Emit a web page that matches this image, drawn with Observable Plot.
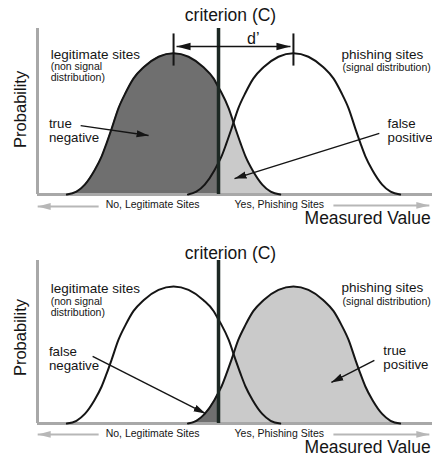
<!DOCTYPE html>
<html>
<head>
<meta charset="utf-8">
<script src="https://cdn.jsdelivr.net/npm/d3@7"></script>
<script src="https://cdn.jsdelivr.net/npm/@observablehq/plot@0.6"></script>
<style>
  html, body { margin: 0; padding: 0; background: #fff; }
  #chart { width: 432px; }
  #chart svg { display: block; }
</style>
</head>
<body>
<div id="chart"></div>
<script>
const legitX = [-1.78, -1.62, -1.48, -1.32, -1.2, -1.12, -1.03, -0.92, -0.8, -0.67, -0.5, -0.25, 0, 0.25, 0.5, 0.67, 0.75, 0.8, 0.92, 1.03, 1.12, 1.2, 1.32, 1.48, 1.62, 1.78];
const legitY = [0, 0.008, 0.028, 0.068, 0.108, 0.144, 0.188, 0.244, 0.288, 0.328, 0.36, 0.39, 0.4, 0.39, 0.36, 0.328, 0.303, 0.288, 0.244, 0.188, 0.144, 0.108, 0.068, 0.028, 0.008, 0];
const phishX = [0.24, 0.38, 0.52, 0.68, 0.75, 0.8, 0.88, 0.97, 1.08, 1.2, 1.33, 1.5, 1.75, 2, 2.25, 2.5, 2.67, 2.8, 2.92, 3.03, 3.12, 3.2, 3.32, 3.48, 3.62, 3.78];
const phishY = [0, 0.008, 0.028, 0.068, 0.091, 0.108, 0.144, 0.188, 0.244, 0.288, 0.328, 0.36, 0.39, 0.4, 0.39, 0.36, 0.328, 0.288, 0.244, 0.188, 0.144, 0.108, 0.068, 0.028, 0.008, 0];
const criterion = 0.75;
const means = [0, 2];          // legitimate mean, phishing mean (d' between them)
const xDomain = [-2.27, 4.32];

// text content
const titleText = "criterion (C)";
const dprimeText = "d\u2019";
const yTitle = "Probability";
const xTitle = "Measured Value";
const axisNotes = ["No, Legitimate Sites", "Yes, Phishing Sites"];
const distNames = ["legitimate sites", "phishing sites"];
const distSubs = [["(non signal", "distribution)"], ["(signal distribution)"]];
const topOutcomes = [["true", "negative"], ["false", "positive"]];
const bottomOutcomes = [["false", "negative"], ["true", "positive"]];

const legit = legitX.map((x, i) => ({x, y: legitY[i]}));
const phish = phishX.map((x, i) => ({x, y: phishY[i]}));

const DARK = "#6f6f6f", LIGHT = "#cacaca", INK = "#151515", AXIS = "#a8a8a8", CRIT = "#1c2823";
const ARROW_INK = "#141414", DPRIME_INK = "#131313", GRAY_ARROW = "#b7b7b7";
const FONT = "'Liberation Sans', Arial, Helvetica, sans-serif";

function addMarkers(svg, id) {
  const ns = "http://www.w3.org/2000/svg";
  const defs = document.createElementNS(ns, "defs");
  const mk = (mid, len, half, fill, orient) => {
    const m = document.createElementNS(ns, "marker");
    m.setAttribute("id", mid);
    m.setAttribute("viewBox", `${-len} ${-half - 1} ${len + 1} ${2 * half + 2}`);
    m.setAttribute("refX", "0");
    m.setAttribute("refY", "0");
    m.setAttribute("markerWidth", String(len + 1));
    m.setAttribute("markerHeight", String(2 * half + 2));
    m.setAttribute("markerUnits", "userSpaceOnUse");
    m.setAttribute("orient", orient);
    const p = document.createElementNS(ns, "path");
    p.setAttribute("d", `M${-len},${-half}L0,0L${-len},${half}Z`);
    p.setAttribute("fill", fill);
    p.setAttribute("stroke", "none");
    m.appendChild(p);
    defs.appendChild(m);
  };
  mk(`blk-${id}`, 12, 3.6, INK, "auto");
  mk(`dp-${id}`, 14, 3.8, INK, "auto-start-reverse");
  mk(`gry-${id}`, 13, 3.4, GRAY_ARROW, "auto");
  svg.insertBefore(defs, svg.firstChild);
  svg.querySelectorAll(`g[stroke="${ARROW_INK}"] path`).forEach(p => p.setAttribute("marker-end", `url(#blk-${id})`));
  svg.querySelectorAll(`g[stroke="${DPRIME_INK}"] path`).forEach(p => {
    p.setAttribute("marker-end", `url(#dp-${id})`);
    p.setAttribute("marker-start", `url(#dp-${id})`);
  });
  svg.querySelectorAll(`g[stroke="${GRAY_ARROW}"] path`).forEach(p => p.setAttribute("marker-end", `url(#gry-${id})`));
}

function panel(o) {
  const marks = [
    // shaded regions
    Plot.areaY(o.darkData, {x: "x", y: "y", filter: d => d.x <= criterion, fill: DARK, curve: "monotone-x"}),
    Plot.areaY(o.lightData, {x: "x", y: "y", filter: d => d.x >= criterion, fill: LIGHT, curve: "monotone-x"}),
    // axes lines
    Plot.ruleX([xDomain[0]], {y1: 0, y2: o.yMax, stroke: AXIS, strokeWidth: 3}),
    Plot.ruleY([0], {x1: xDomain[0], x2: xDomain[1], stroke: AXIS, strokeWidth: 3}),
    // curves
    Plot.line(legit, {x: "x", y: "y", stroke: INK, strokeWidth: 2, curve: "monotone-x"}),
    Plot.line(phish, {x: "x", y: "y", stroke: INK, strokeWidth: 2, curve: "monotone-x"}),
    // criterion
    Plot.ruleX([criterion], {y1: 0, y2: o.yMax, stroke: CRIT, strokeWidth: 3.5}),
    Plot.text([titleText], {x: criterion + 0.2, y: o.titleY, text: d => d, fontSize: 17.5, lineAnchor: "bottom", fill: INK}),
    // distribution labels
    Plot.text(distNames, {x: (d, i) => o.nameX[i], y: (d, i) => o.nameY[i], text: d => d, fontSize: 13.5, textAnchor: "start", lineAnchor: "bottom", fill: INK}),
    Plot.text(o.subs, {x: d => d.x, y: d => d.y, text: d => d.t, fontSize: 10.5, textAnchor: "start", lineAnchor: "bottom", fill: INK}),
    // outcome labels
    Plot.text(o.outcomes, {x: d => d.x, y: d => d.y, text: d => d.t, fontSize: 13.3, textAnchor: "start", lineAnchor: "bottom", fill: INK}),
    Plot.link(o.arrows, {x1: "x1", y1: "y1", x2: "x2", y2: "y2", stroke: ARROW_INK, strokeWidth: 1.4}),
    // axis notes
    Plot.text(axisNotes, {x: (d, i) => o.noteX[i], y: o.noteY, text: d => d, fontSize: 10.5, textAnchor: "start", lineAnchor: "bottom", fill: INK}),
    Plot.link(o.grayArrows, {x1: "x1", y1: "y1", x2: "x2", y2: "y2", stroke: GRAY_ARROW, strokeWidth: 2}),
    Plot.text([xTitle], {x: xDomain[1] - 0.03, y: o.xTitleY, text: d => d, fontSize: 17.5, textAnchor: "end", lineAnchor: "bottom", fill: INK}),
    Plot.text([yTitle], {x: -2.55, y: o.yTitleY, text: d => d, fontSize: 16.5, rotate: -90, textAnchor: "middle", lineAnchor: "middle", fill: INK})
  ];
  if (o.dprime) {
    marks.push(
      Plot.link(means, {x1: d => d, x2: d => d, y1: 0.365, y2: 0.456, stroke: INK, strokeWidth: 2}),
      Plot.link([means], {x1: d => d[0] + 0.05, x2: d => d[1] - 0.05, y1: 0.419, y2: 0.419, stroke: DPRIME_INK, strokeWidth: 1.4}),
      Plot.text([dprimeText], {x: 1.33, y: 0.4275, text: d => d, fontSize: 16, lineAnchor: "bottom", fill: INK})
    );
  }
  const svg = Plot.plot({
    width: 432,
    height: 228,
    marginLeft: 37,
    marginRight: 0,
    marginTop: o.marginTop,
    marginBottom: o.marginBottom,
    x: {domain: xDomain, axis: null},
    y: {domain: [0, o.yMax], axis: null},
    style: {fontFamily: FONT, background: "#fff", overflow: "visible"},
    marks
  });
  addMarkers(svg, o.id);
  return svg;
}

const topPanel = panel({
  id: "top", marginTop: 28, marginBottom: 34, yMax: 0.47,
  darkData: legit, lightData: legit, dprime: true,
  titleY: 0.490,
  nameX: [-2.05, 2.8], nameY: [0.385, 0.384],
  subs: [
    {x: -2.05, y: 0.352, t: distSubs[0][0]}, {x: -2.05, y: 0.322, t: distSubs[0][1]},
    {x: 2.82, y: 0.351, t: distSubs[1][0]}
  ],
  outcomes: [
    {x: -2.08, y: 0.188, t: topOutcomes[0][0]}, {x: -2.08, y: 0.149, t: topOutcomes[0][1]},
    {x: 3.57, y: 0.188, t: topOutcomes[1][0]}, {x: 3.57, y: 0.149, t: topOutcomes[1][1]}
  ],
  arrows: [
    {x1: -1.55, y1: 0.195, x2: -0.417, y2: 0.167},
    {x1: 3.433, y1: 0.173, x2: 1.017, y2: 0.045}
  ],
  noteX: [-1.133, 1.017], noteY: -0.0396,
  grayArrows: [
    {x1: -1.25, y1: -0.034, x2: -2.267, y2: -0.034},
    {x1: 2.667, y1: -0.031, x2: 4.267, y2: -0.031}
  ],
  xTitleY: -0.0849, yTitleY: 0.241
});

const bottomPanel = panel({
  id: "bot", marginTop: 32, marginBottom: 33, yMax: 0.476,
  darkData: phish, lightData: phish, dprime: false,
  titleY: 0.479,
  nameX: [-2.05, 2.8], nameY: [0.3825, 0.385],
  subs: [
    {x: -2.05, y: 0.347, t: distSubs[0][0]}, {x: -2.05, y: 0.3145, t: distSubs[0][1]},
    {x: 2.82, y: 0.347, t: distSubs[1][0]}
  ],
  outcomes: [
    {x: -2.08, y: 0.197, t: bottomOutcomes[0][0]}, {x: -2.08, y: 0.157, t: bottomOutcomes[0][1]},
    {x: 3.5, y: 0.200, t: bottomOutcomes[1][0]}, {x: 3.5, y: 0.160, t: bottomOutcomes[1][1]}
  ],
  arrows: [
    {x1: -1.35, y1: 0.196, x2: 0.533, y2: 0.029},
    {x1: 3.35, y1: 0.184, x2: 2.633, y2: 0.120}
  ],
  noteX: [-1.133, 1.017], noteY: -0.038,
  grayArrows: [
    {x1: -1.25, y1: -0.032, x2: -2.267, y2: -0.032},
    {x1: 2.667, y1: -0.032, x2: 4.267, y2: -0.032}
  ],
  xTitleY: -0.0847, yTitleY: 0.251
});

document.getElementById("chart").append(topPanel, bottomPanel);
</script>
</body>
</html>
